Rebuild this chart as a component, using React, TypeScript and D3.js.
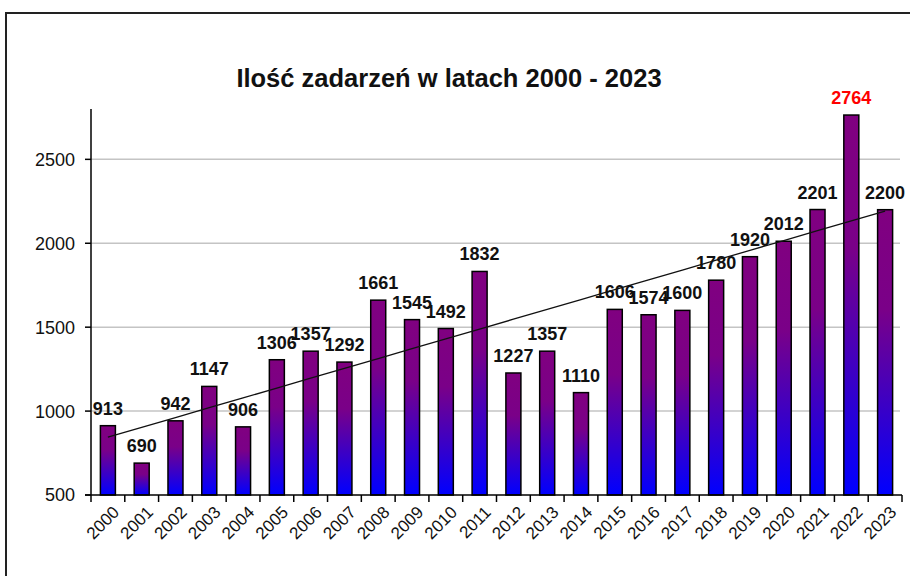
import React from 'react';
import * as d3 from 'd3';

// Chart data
const YEARS = ['2000', '2001', '2002', '2003', '2004', '2005', '2006', '2007', '2008', '2009', '2010', '2011',
  '2012', '2013', '2014', '2015', '2016', '2017', '2018', '2019', '2020', '2021', '2022', '2023'];
const COUNTS = [913, 690, 942, 1147, 906, 1306, 1357, 1292, 1661, 1545, 1492, 1832,
  1227, 1357, 1110, 1606, 1574, 1600, 1780, 1920, 2012, 2201, 2764, 2200];
const Y_TICKS = [500, 1000, 1500, 2000, 2500];
const TITLE = 'Ilość zadarzeń w latach 2000 - 2023';
const HIGHLIGHT_YEAR = '2022';

const FONT = '"Liberation Sans", Arial, sans-serif';

const App = () => {
  const width = 910;
  const height = 576;
  const plot = { left: 91, right: 902, top: 109, bottom: 495 };

  const x = d3.scaleBand<string>()
    .domain(YEARS)
    .range([plot.left, plot.right])
    .paddingInner(0)
    .paddingOuter(0);

  const y = d3.scaleLinear()
    .domain([500, 2800])
    .range([plot.bottom, plot.top]);

  const barWidth = 15;
  const cx = (yr: string) => (x(yr) as number) + x.bandwidth() / 2;

  // Linear trend (least squares)
  const idx = COUNTS.map((_, i) => i);
  const mx = d3.mean(idx) as number;
  const my = d3.mean(COUNTS) as number;
  const slope = d3.sum(idx, i => (i - mx) * (COUNTS[i] - my)) / d3.sum(idx, i => (i - mx) * (i - mx));
  const intercept = my - slope * mx;
  const trend = d3.line<number>()
    .x(i => cx(YEARS[i]))
    .y(i => y(intercept + slope * i));

  const boundaries = YEARS.map(yr => x(yr) as number).concat([plot.right]);

  return (
    <svg width={width} height={height} style={{ position: 'absolute', left: 0, top: 0, background: '#fff' }}
      fontFamily={FONT}>
      <defs>
        <linearGradient id="barGrad" x1="0" y1="0" x2="0" y2="1">
          <stop offset="0%" stopColor="#800080" />
          <stop offset="35%" stopColor="#7a0088" />
          <stop offset="100%" stopColor="#0000ff" />
        </linearGradient>
      </defs>

      {/* outer frame */}
      <rect x={6} y={13} width={width + 20} height={height + 20} fill="none" stroke="#222" strokeWidth={2} />

      {/* title */}
      <text x={449} y={87} textAnchor="middle" fontSize={25.5} fontWeight="bold" fill="#111">{TITLE}</text>

      {/* grid */}
      {Y_TICKS.slice(1).map(t => (
        <line key={t} x1={plot.left} x2={plot.right - 2} y1={y(t)} y2={y(t)} stroke="#c4c4c4" strokeWidth={1.5} />
      ))}

      {/* bars */}
      {YEARS.map((yr, i) => (
        <rect key={yr} x={cx(yr) - barWidth / 2} y={y(COUNTS[i])} width={barWidth}
          height={plot.bottom - y(COUNTS[i])} fill="url(#barGrad)" stroke="#000" strokeWidth={1.5} />
      ))}

      {/* trend line */}
      <path d={trend(idx) || ''} fill="none" stroke="#111" strokeWidth={1.3} />

      {/* axes */}
      <line x1={plot.left} x2={plot.left} y1={plot.top} y2={plot.bottom} stroke="#000" strokeWidth={1.5} />
      <line x1={plot.left - 6} x2={plot.right} y1={plot.bottom} y2={plot.bottom} stroke="#000" strokeWidth={1.5} />
      {Y_TICKS.map(t => (
        <g key={t}>
          <line x1={plot.left - 6} x2={plot.left} y1={y(t)} y2={y(t)} stroke="#000" strokeWidth={1.5} />
          <text x={plot.left - 16} y={y(t)} dy="0.36em" textAnchor="end" fontSize={18} fill="#111">{t}</text>
        </g>
      ))}
      {boundaries.map((b, i) => (
        <line key={i} x1={b} x2={b} y1={plot.bottom} y2={plot.bottom + 7} stroke="#000" strokeWidth={1.5} />
      ))}
      {YEARS.map(yr => (
        <text key={yr} transform={`translate(${cx(yr) + 4},${plot.bottom + 10}) rotate(-45)`}
          textAnchor="end" dy="0.7em" fontSize={17} fill="#111">{yr}</text>
      ))}

      {/* data labels */}
      {YEARS.map((yr, i) => (
        <text key={yr} x={cx(yr)} y={y(COUNTS[i]) - 11} textAnchor="middle" fontSize={18} fontWeight="bold"
          fill={yr === HIGHLIGHT_YEAR ? '#ff0000' : '#111'}>{COUNTS[i]}</text>
      ))}
    </svg>
  );
};

export default App;
